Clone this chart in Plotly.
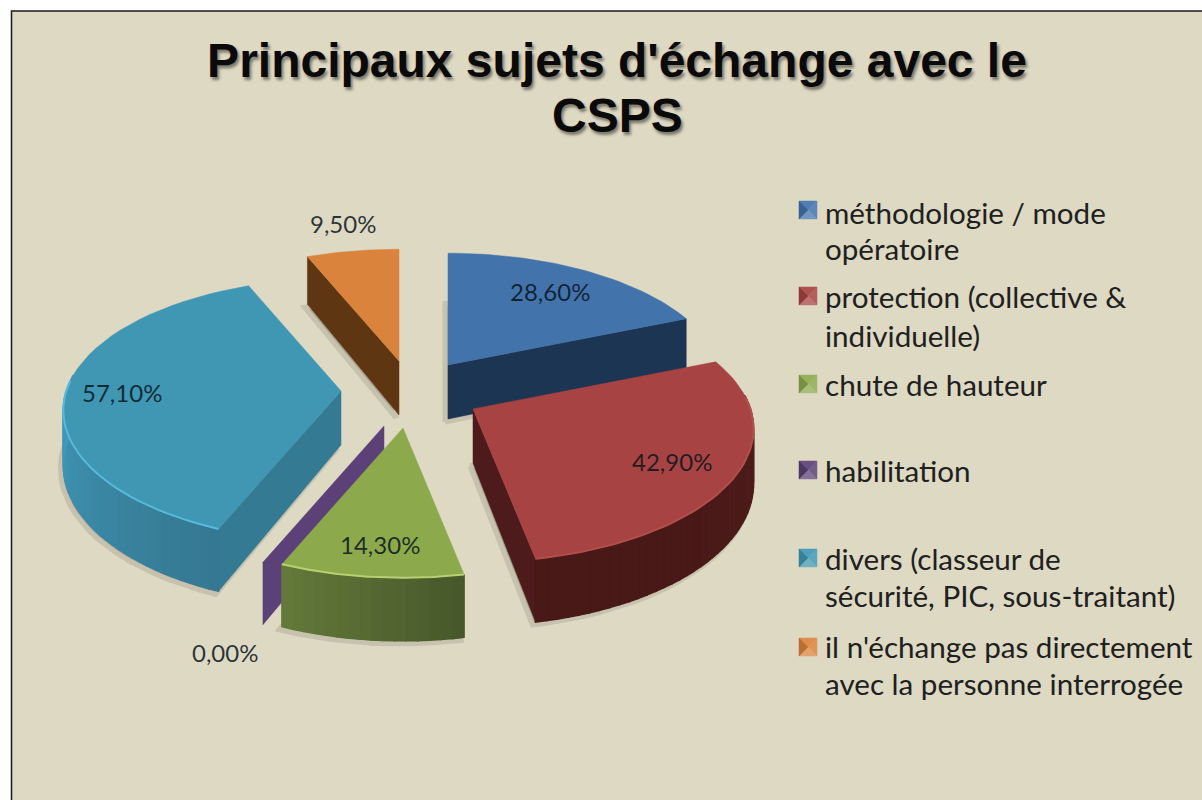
import math
import plotly.graph_objects as go

# ---- data ----
categories = [
    "méthodologie / mode\nopératoire",
    "protection (collective &\nindividuelle)",
    "chute de hauteur",
    "habilitation",
    "divers (classeur de\nsécurité, PIC, sous-traitant)",
    "il n'échange pas directement\navec la personne interrogée",
]
values = [28.6, 42.9, 14.3, 0.0, 57.1, 9.5]
title_lines = ["Principaux sujets d'échange avec le", "CSPS"]

# ---- styling / layout ----
BG = "#DDD9C3"
apexes = [(448, 365), (473, 409), (403, 428), (384, 426), (341, 391), (399, 361)]
scales = [1.0, 1.02, 1.0, 1.0, 1.01, 1.0]
top_colors = ["#4273AB", "#A74342", "#8CAA4C", "#5B4177", "#4097B3", "#DA833C"]
face_colors = ["#1B3553", "#4D1B1B", "#4F6229", "#5B4177", "#347A93", "#5F3612"]
side_from = ["#1B3553", "#52201E", "#46572A", "#5B4177", "#357892", "#5F3612"]
side_to = ["#1B3553", "#481917", "#647A3A", "#5B4177", "#419AB9", "#5F3612"]
rim_colors = [None, "#B24F4C", "#B7D070", None, "#58BADA", None]
swatch_y = [210, 296, 384, 470, 558, 647]
line_y = [[212, 248], [296, 335], [384], [470], [558, 595], [646, 683]]
label_xy = [(550, 291), (672, 461), (380, 544), (225, 652), (122, 392), (343, 223)]
draw_order = [5, 0, 4, 3, 1, 2]
end_face = [True, True, False, True, False, False]
start_face = [False, False, False, False, True, True]

A0, B0, K, H = 272, 128, 0.145, 54
TITLE_FONT = dict(family="Liberation Sans", size=48, color="#0A0A0A", weight="bold",
                  shadow="2px 3px 3px rgba(0,0,0,0.45)")
total = sum(values)
starts, ang = [], 0.0
for v in values:
    starts.append(ang)
    ang += 360.0 * v / total


def proj(i, theta, r=1.0, z=0.0):
    t = math.radians(theta)
    r = r * scales[i]
    u, w = r * math.sin(t), r * math.cos(t)
    s = 1 / (1 + K * w)
    return apexes[i][0] + A0 * u * s, apexes[i][1] - B0 * w * s + H * z * s


def mix(c1, c2, f):
    a = [int(c1[j:j + 2], 16) for j in (1, 3, 5)]
    b = [int(c2[j:j + 2], 16) for j in (1, 3, 5)]
    return "#%02X%02X%02X" % tuple(round(p + (q - p) * f) for p, q in zip(a, b))


fig = go.Figure()


def poly(pts, fill, line=None, width=0.5, name=""):
    xs = [p[0] for p in pts] + [pts[0][0]]
    ys = [p[1] for p in pts] + [pts[0][1]]
    fig.add_trace(go.Scatter(x=xs, y=ys, mode="lines", fill="toself", fillcolor=fill,
                             line=dict(color=line or fill, width=width),
                             hoverinfo="skip", showlegend=False, name=name))


def arc(i, a, b, z=0.0, n=40):
    return [proj(i, a + (b - a) * j / n, 1.0, z) for j in range(n + 1)]


# soft shadows
for i in draw_order:
    a, b = starts[i], starts[i] + 360 * values[i] / total
    if b > a:
        pts = [proj(i, a, 0, 1)] + arc(i, a, b, 1)
        poly([(x - 3, y + 3) for x, y in pts], "#ABA796", "#C6C2AE", 5, name="shadow")

for i in draw_order:
    a = starts[i]
    b = a + 360 * values[i] / total
    # radial faces
    if end_face[i]:
        poly([proj(i, b, 0, 0), proj(i, b, 1, 0), proj(i, b, 1, 1), proj(i, b, 0, 1)], face_colors[i])
    if start_face[i]:
        poly([proj(i, a, 0, 0), proj(i, a, 1, 0), proj(i, a, 1, 1), proj(i, a, 0, 1)], face_colors[i])
    # curved side, in shaded bands
    if b > a:
        n = max(12, int((b - a) / 2))
        for j in range(n):
            t0 = a + (b - a) * j / n
            t1 = a + (b - a) * (j + 1) / n
            mid = (t0 + t1) / 2
            if math.cos(math.radians(mid)) < 0.12:
                f = min(1.0, (j + 0.5) / n * ((b - a) / min(b - a, 70)))
                c = mix(side_from[i], side_to[i], f)
                poly([proj(i, t0, 1, 0), proj(i, t1, 1, 0), proj(i, t1, 1, 1), proj(i, t0, 1, 1)], c, width=1.5)
        # top face
        poly([proj(i, a, 0, 0)] + arc(i, a, b), top_colors[i], name=categories[i].split("\n")[0])
        # bright rim on the front edge
        if rim_colors[i]:
            pts = [p for t, p in zip([a + (b - a) * j / 60 for j in range(61)], arc(i, a, b, n=60))
                   if math.cos(math.radians(t)) < 0.1]
            fig.add_trace(go.Scatter(x=[p[0] for p in pts], y=[p[1] for p in pts], mode="lines",
                                     line=dict(color=rim_colors[i], width=2),
                                     hoverinfo="skip", showlegend=False))

# data labels
for v, (x, y) in zip(values, label_xy):
    fig.add_annotation(x=x, y=y, text=f"{v:.2f}".replace(".", ",") + "%", showarrow=False,
                       font=dict(family="Lato", size=24, color="rgba(10,20,30,0.85)"))

# legend swatches (four bevelled triangles) and text lines
S = 9
SX = 808
for cat, col, sy, ys in zip(categories, top_colors, swatch_y, line_y):
    c = (SX, sy)
    tl, tr, br, bl = (SX - S, sy - S), (SX + S, sy - S), (SX + S, sy + S), (SX - S, sy + S)
    poly([tl, tr, c], mix(col, "#FFFFFF", 0.08))
    poly([tr, br, c], mix(col, "#FFFFFF", 0.14))
    poly([br, bl, c], mix(col, "#FFFFFF", 0.25))
    poly([bl, tl, c], mix(col, "#000000", 0.15))
    for text, y in zip(cat.split("\n"), ys):
        fig.add_annotation(x=823, y=y, text=text, xanchor="left", showarrow=False,
                           font=dict(family="Lato", size=29.6, color="#202020"))

fig.add_annotation(x=617, y=115, text=title_lines[1], showarrow=False, font=TITLE_FONT)

fig.add_shape(type="rect", x0=11.5, y0=11, x1=1230, y1=830, layer="below",
              fillcolor=BG, line=dict(color="#1A1A1A", width=1.5))

fig.update_layout(
    width=1202, height=800, margin=dict(l=0, r=0, t=0, b=0),
    paper_bgcolor="#FFFFFF", plot_bgcolor="#FFFFFF", showlegend=False,
    xaxis=dict(range=[0, 1202], visible=False, fixedrange=True),
    yaxis=dict(range=[800, 0], visible=False, fixedrange=True),
    title=dict(text=title_lines[0], x=617 / 1202, xanchor="center", y=1 - 60 / 800, yanchor="middle",
               font=TITLE_FONT),
)

fig.write_html("out.html", config=dict(displayModeBar=False),
               post_script="document.body.style.margin='0';document.body.style.overflow='hidden';")
